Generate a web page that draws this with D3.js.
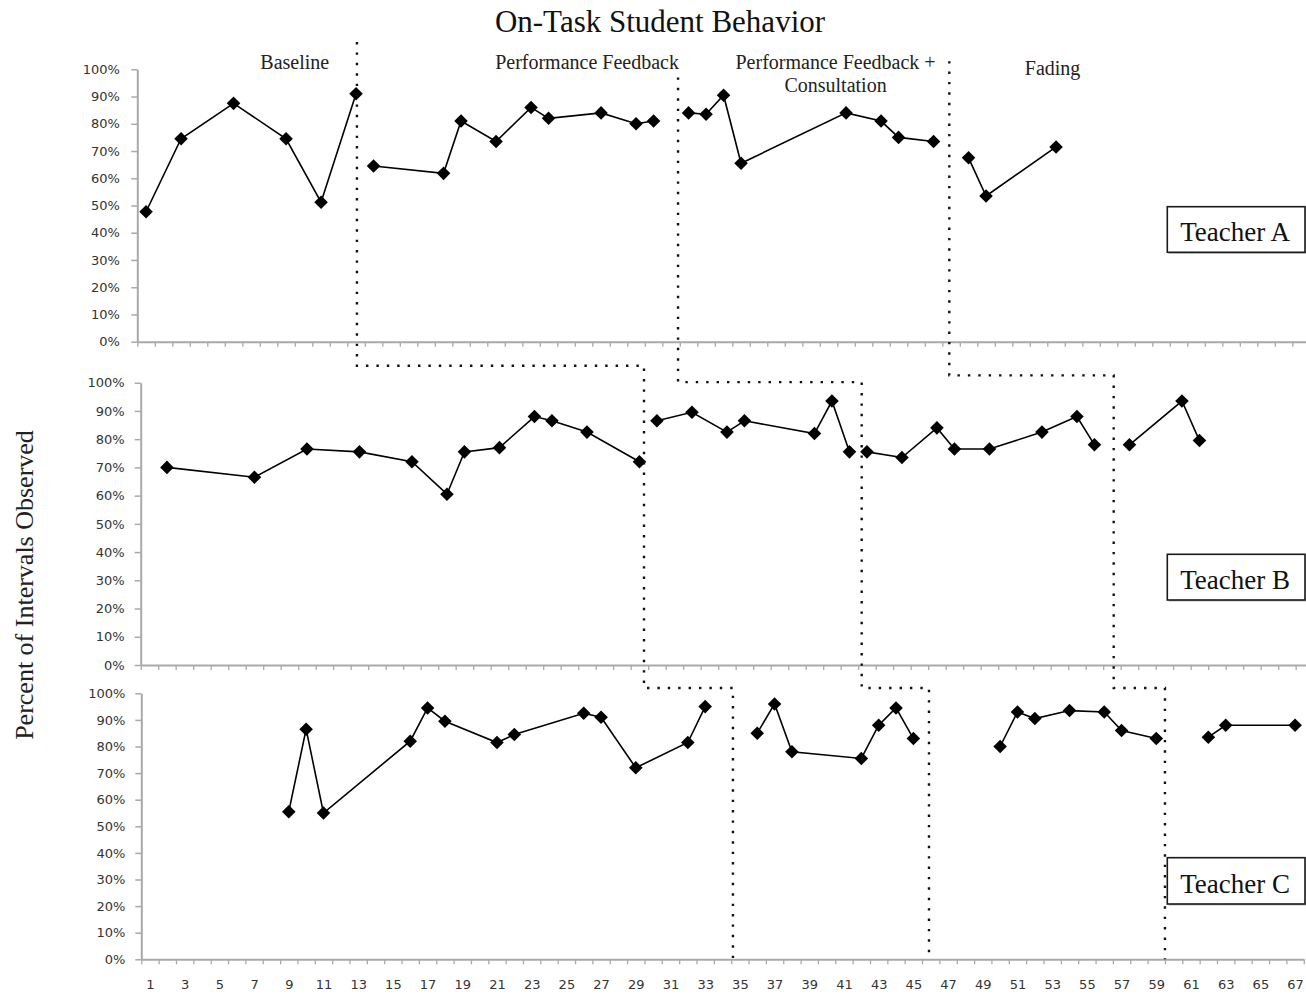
<!DOCTYPE html>
<html>
<head>
<meta charset="utf-8">
<script src="https://cdn.jsdelivr.net/npm/d3@7"></script>
<style>
  html, body { margin: 0; padding: 0; background: #fff; }
  svg { display: block; }
</style>
</head>
<body>
<svg id="chart" width="1306" height="995"></svg>
<script>
// ---- Data: session number and percent of intervals on-task, per teacher ----
const sessionsA = [1, 3, 6, 9, 11, 13, 14, 18, 19, 21, 23, 24, 27, 29, 30, 32, 33, 34, 35, 41, 43, 44, 46, 48, 49, 53];
const valuesA   = [47.7, 74.5, 87.5, 74.5, 51.2, 91.0, 64.5, 61.8, 81.0, 73.5, 86.0, 82.0, 84.0, 80.0, 81.0, 84.0, 83.5, 90.5, 65.5, 84.0, 81.0, 75.0, 73.5, 67.5, 53.5, 71.5];

const sessionsB = [2, 7, 10, 13, 16, 18, 19, 21, 23, 24, 26, 29, 30, 32, 34, 35, 39, 40, 41, 42, 44, 46, 47, 49, 52, 54, 55, 57, 60, 61];
const valuesB   = [70.0, 66.5, 76.5, 75.5, 72.0, 60.5, 75.5, 77.0, 88.0, 86.5, 82.5, 72.0, 86.5, 89.5, 82.5, 86.5, 82.0, 93.5, 75.5, 75.5, 73.5, 84.0, 76.5, 76.5, 82.5, 88.0, 78.0, 78.0, 93.5, 79.5];

const sessionsC = [9, 10, 11, 16, 17, 18, 21, 22, 26, 27, 29, 32, 33, 36, 37, 38, 42, 43, 44, 45, 50, 51, 52, 54, 56, 57, 59, 62, 63, 67];
const valuesC   = [55.5, 86.5, 55.0, 82.0, 94.5, 89.5, 81.5, 84.5, 92.5, 91.0, 72.0, 81.5, 95.0, 85.0, 96.0, 78.0, 75.5, 88.0, 94.5, 83.0, 80.0, 93.0, 90.5, 93.5, 93.0, 86.0, 83.0, 83.5, 88.0, 88.0];

// Phase-change positions (in session units) where each condition begins, per teacher
const phaseChangeA = [13.05, 31.4, 46.9];
const phaseChangeB = [29.26, 41.7, 56.1];
const phaseChangeC = [34.6, 45.9, 59.5];

const teacherNames = ["Teacher A", "Teacher B", "Teacher C"];
const phaseNames = [["Baseline"], ["Performance Feedback"], ["Performance Feedback +", "Consultation"], ["Fading"]];

const yTickValues = [0, 10, 20, 30, 40, 50, 60, 70, 80, 90, 100];
const xTickLabels = [1, 3, 5, 7, 9, 11, 13, 15, 17, 19, 21, 23, 25, 27, 29, 31, 33, 35, 37, 39, 41, 43, 45, 47, 49, 51, 53, 55, 57, 59, 61, 63, 65, 67];
const sessionCount = 67;

// ---- Layout ----
const W = 1306, H = 995;
const SERIF = "'Liberation Serif', 'Times New Roman', serif";
const SANS = "'DejaVu Sans', Verdana, sans-serif";
const AXIS_GREY = "#a9a9a9";
const LABEL_GREY = "#333";

const panelLayout = [
  { left: 137.3, step: 17.5,  top: 69.3,  bottom: 341.7, pad: 11.5, box: { top: 206.7, bottom: 252.3 } },
  { left: 140.7, step: 17.5,  top: 382.7, bottom: 665.0, pad: 10, box: { top: 554.3, bottom: 600.0 } },
  { left: 141.3, step: 17.35, top: 693.3, bottom: 959.3, pad: 10, box: { top: 857.7, bottom: 904.0 } }
];
const boxLeft = 1167.3, boxRight = 1305;

const series = [
  { sessions: sessionsA, values: valuesA, changes: phaseChangeA },
  { sessions: sessionsB, values: valuesB, changes: phaseChangeB },
  { sessions: sessionsC, values: valuesC, changes: phaseChangeC }
];

const svg = d3.select("#chart");
svg.append("rect").attr("width", W).attr("height", H).attr("fill", "#fff");

// Title
svg.append("text")
  .attr("x", 660).attr("y", 32)
  .attr("text-anchor", "middle")
  .attr("font-family", SERIF).attr("font-size", 31)
  .attr("fill", "#111")
  .text("On-Task Student Behavior");

// Shared y-axis title
svg.append("text")
  .attr("transform", "translate(33,585) rotate(-90)")
  .attr("text-anchor", "middle")
  .attr("font-family", SERIF).attr("font-size", 26)
  .attr("fill", "#222")
  .text("Percent of Intervals Observed");

// Build scales for each panel
const scales = panelLayout.map(p => ({
  x: d3.scaleLinear().domain([0.5, sessionCount + 0.5]).range([p.left, p.left + sessionCount * p.step]),
  y: d3.scaleLinear().domain([0, 100]).range([p.bottom, p.top])
}));

const boundaries = d3.range(0, sessionCount + 1).map(i => i + 0.5);
const diamond = d3.symbol(d3.symbolSquare, 92);

panelLayout.forEach((p, i) => {
  const { x, y } = scales[i];
  const g = svg.append("g");

  // y axis
  const ya = g.append("g")
    .attr("transform", `translate(${p.left},0)`)
    .call(d3.axisLeft(y).tickValues(yTickValues).tickFormat(d => d + "%")
      .tickSize(6).tickSizeOuter(0).tickPadding(p.pad));
  ya.select(".domain").attr("stroke", AXIS_GREY).attr("stroke-width", 2);
  ya.selectAll(".tick line").attr("stroke", AXIS_GREY).attr("stroke-width", 1.5);
  ya.selectAll(".tick text").attr("font-family", SANS).attr("font-size", 13).attr("fill", LABEL_GREY);

  // x axis: tick marks at session boundaries
  const xa = g.append("g")
    .attr("transform", `translate(0,${p.bottom})`)
    .call(d3.axisBottom(x).tickValues(boundaries).tickFormat("").tickSize(5).tickSizeOuter(0));
  xa.select(".domain").attr("stroke", AXIS_GREY).attr("stroke-width", 2);
  xa.selectAll(".tick line").attr("stroke", AXIS_GREY).attr("stroke-width", 1.3);

  // session labels on the bottom panel only
  if (i === panelLayout.length - 1) {
    const xl = g.append("g")
      .attr("transform", `translate(0,${p.bottom})`)
      .call(d3.axisBottom(x).tickValues(xTickLabels).tickSize(0).tickPadding(20));
    xl.select(".domain").remove();
    xl.selectAll(".tick text").attr("font-family", SANS).attr("font-size", 13).attr("fill", LABEL_GREY);
  }

  // data points grouped by phase
  const s = series[i];
  const pts = s.sessions.map((sess, k) => ({ s: sess, v: s.values[k], phase: d3.bisectRight(s.changes, sess) }));
  const groups = d3.groups(pts, d => d.phase);
  const line = d3.line().x(d => x(d.s)).y(d => y(d.v));
  g.selectAll(".seg").data(groups).join("path")
    .attr("d", d => line(d[1]))
    .attr("fill", "none").attr("stroke", "#000").attr("stroke-width", 1.6);
  g.selectAll(".pt").data(pts).join("path")
    .attr("d", diamond)
    .attr("transform", d => `translate(${x(d.s)},${y(d.v)}) rotate(45)`)
    .attr("fill", "#000");

  // teacher label box
  const bx = g.append("g");
  bx.append("rect")
    .attr("x", boxLeft + 1.5).attr("y", p.box.top + 1.5)
    .attr("width", boxRight - boxLeft).attr("height", p.box.bottom - p.box.top)
    .attr("fill", "#bbb");
  bx.append("rect")
    .attr("x", boxLeft).attr("y", p.box.top)
    .attr("width", boxRight - boxLeft).attr("height", p.box.bottom - p.box.top)
    .attr("fill", "#fff").attr("stroke", "#1a1a1a").attr("stroke-width", 1.6);
  bx.append("text")
    .attr("x", (boxLeft + boxRight) / 2 - 1)
    .attr("y", p.box.bottom - 11)
    .attr("text-anchor", "middle")
    .attr("font-family", SERIF).attr("font-size", 27).attr("fill", "#111")
    .text(teacherNames[i]);
});

// Phase labels above the first panel
const labelPos = [
  { at: 9.5,  lines: [68.5] },
  { at: 26.2, lines: [68.5] },
  { at: 40.4, lines: [68.5, 91.5] },
  { at: 52.8, lines: [75] }
];
phaseNames.forEach((lines, k) => {
  lines.forEach((t, j) => {
    svg.append("text")
      .attr("x", scales[0].x(labelPos[k].at))
      .attr("y", labelPos[k].lines[j])
      .attr("text-anchor", "middle")
      .attr("font-family", SERIF).attr("font-size", 20).attr("fill", "#222")
      .text(t);
  });
});

// Stepped dotted phase-change lines running through all three panels
const lineTops = [110, 97, 103];          // start height above teacher A's axis (percent units)
const upperJoin = [106, 100.2, 102.6];    // horizontal step above teacher B (percent units of B)
const lowerJoin = 102;                    // horizontal step above teacher C (percent units of C)
[0, 1, 2].forEach(k => {
  const [A, B, C] = scales;
  const xa = A.x(phaseChangeA[k]), xb = B.x(phaseChangeB[k]), xc = C.x(phaseChangeC[k]);
  const yu = B.y(upperJoin[k]), yl = C.y(lowerJoin);
  const path = d3.path();
  path.moveTo(xa, A.y(lineTops[k]));
  path.lineTo(xa, yu);
  path.lineTo(xb, yu);
  path.lineTo(xb, yl);
  path.lineTo(xc, yl);
  path.lineTo(xc, C.y(0));
  svg.append("path")
    .attr("d", path.toString())
    .attr("fill", "none")
    .attr("stroke", "#111")
    .attr("stroke-width", 2.4)
    .attr("stroke-dasharray", "2.4 8");
});
</script>
</body>
</html>
